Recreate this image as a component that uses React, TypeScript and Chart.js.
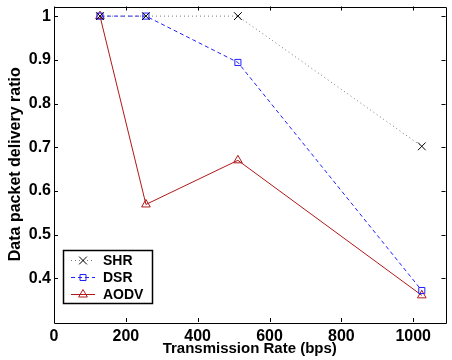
import React, { useEffect, useRef } from "react";
import { Chart, registerables } from "chart.js";

Chart.register(...registerables);

const xValues = [128, 256, 512, 1024];
const shrValues = [1, 1, 1, 0.702];
const dsrValues = [1, 1, 0.894, 0.372];
const aodvValues = [1, 0.569, 0.67, 0.361];
const xTickValues = [0, 200, 400, 600, 800, 1000];
const yTickValues = [0.4, 0.5, 0.6, 0.7, 0.8, 0.9, 1];
const seriesNames = ["SHR", "DSR", "AODV"];

const FONT = "'Liberation Sans', Arial, Helvetica, sans-serif";
const RED = "#b01818";
const BLUE = "#2020ff";

function drawMarker(ctx: CanvasRenderingContext2D, kind: string, x: number, y: number, color: string) {
  ctx.save();
  ctx.strokeStyle = color;
  ctx.lineWidth = 1;
  ctx.setLineDash([]);
  ctx.beginPath();
  if (kind === "cross") {
    const d = 3.9;
    ctx.moveTo(x - d, y - d);
    ctx.lineTo(x + d, y + d);
    ctx.moveTo(x + d, y - d);
    ctx.lineTo(x - d, y + d);
  } else if (kind === "rect") {
    ctx.rect(x - 3, y - 3, 6, 6);
  } else {
    const r = 5;
    ctx.moveTo(x, y - r);
    ctx.lineTo(x + r * 0.866, y + r * 0.5);
    ctx.lineTo(x - r * 0.866, y + r * 0.5);
    ctx.closePath();
  }
  ctx.stroke();
  ctx.restore();
}

const framePlugin = {
  id: "matlabFrame",
  afterDraw(chart: any) {
    const { ctx, chartArea } = chart;
    const { left, right, top, bottom } = chartArea;
    const xs = chart.scales.x;
    const ys = chart.scales.y;
    ctx.save();
    ctx.strokeStyle = "#000";
    ctx.lineWidth = 1;
    ctx.setLineDash([]);
    ctx.beginPath();
    ctx.rect(Math.round(left) + 0.5, Math.round(top) + 0.5, Math.round(right - left), Math.round(bottom - top));
    const tl = 4;
    xTickValues.forEach((v) => {
      const px = Math.round(xs.getPixelForValue(v)) + 0.5;
      ctx.moveTo(px, bottom);
      ctx.lineTo(px, bottom - tl);
      ctx.moveTo(px, top);
      ctx.lineTo(px, top + tl);
    });
    yTickValues.forEach((v) => {
      const py = Math.round(ys.getPixelForValue(v)) + 0.5;
      ctx.moveTo(left, py);
      ctx.lineTo(left + tl, py);
      ctx.moveTo(right, py);
      ctx.lineTo(right - tl, py);
    });
    ctx.stroke();

    // legend
    const bx = 63.5, by = 250.5, bw = 89, bh = 53;
    ctx.fillStyle = "#fff";
    ctx.fillRect(bx, by, bw, bh);
    ctx.lineWidth = 1.5;
    ctx.strokeRect(bx, by, bw, bh);
    const rows = [260, 277, 294];
    const styles = [
      { color: "#777", dash: [1, 3], marker: "cross", mcolor: "#000" },
      { color: BLUE, dash: [4, 3], marker: "rect", mcolor: BLUE },
      { color: RED, dash: [], marker: "tri", mcolor: RED },
    ];
    ctx.font = `bold 14px ${FONT}`;
    ctx.textBaseline = "middle";
    ctx.textAlign = "left";
    rows.forEach((ry, i) => {
      const s = styles[i];
      ctx.lineWidth = 1;
      ctx.strokeStyle = s.color;
      ctx.setLineDash(s.dash);
      ctx.beginPath();
      ctx.moveTo(71, ry + 0.5);
      ctx.lineTo(95, ry + 0.5);
      ctx.stroke();
      drawMarker(ctx, s.marker, 83, ry + 0.5, s.mcolor);
      ctx.fillStyle = "#000";
      ctx.fillText(seriesNames[i], 103, ry + 1);
    });
    ctx.restore();
  },
};

export default function App() {
  const ref = useRef<HTMLCanvasElement>(null);
  useEffect(() => {
    document.body.style.margin = "0";
    const toPts = (ys: number[]) => xValues.map((x, i) => ({ x, y: ys[i] }));
    const chart = new Chart(ref.current as HTMLCanvasElement, {
      type: "line",
      data: {
        datasets: [
          {
            label: seriesNames[0],
            data: toPts(shrValues),
            borderColor: "#777",
            borderWidth: 1,
            borderDash: [1, 3],
            pointStyle: "crossRot",
            pointRadius: 5.5,
            pointBorderColor: "#000",
            pointBackgroundColor: "#000",
            pointBorderWidth: 1,
            fill: false,
          },
          {
            label: seriesNames[1],
            data: toPts(dsrValues),
            borderColor: BLUE,
            borderWidth: 1,
            borderDash: [4, 3],
            pointStyle: "rect",
            pointRadius: 4.3,
            pointBorderColor: BLUE,
            pointBackgroundColor: "rgba(0,0,0,0)",
            pointBorderWidth: 1,
            fill: false,
          },
          {
            label: seriesNames[2],
            data: toPts(aodvValues),
            borderColor: RED,
            borderWidth: 1,
            pointStyle: "triangle",
            pointRadius: 5,
            pointBorderColor: RED,
            pointBackgroundColor: "rgba(0,0,0,0)",
            pointBorderWidth: 1,
            fill: false,
          },
        ],
      },
      options: {
        animation: false,
        responsive: false,
        devicePixelRatio: 1,
        layout: { padding: { top: 6, right: 1, left: 0, bottom: 0 } },
        plugins: { legend: { display: false }, tooltip: { enabled: false } },
        scales: {
          x: {
            type: "linear",
            min: 0,
            max: 1090,
            grid: { display: false, drawTicks: false },
            border: { display: false },
            afterBuildTicks: (s: any) => {
              s.ticks = xTickValues.map((v) => ({ value: v }));
            },
            afterFit: (s: any) => {
              s.height = 38;
              s.paddingLeft = 0;
              s.paddingRight = 0;
            },
            ticks: {
              color: "#000",
              padding: 5,
              maxRotation: 0,
              autoSkip: false,
              callback: (v: any) => String(v),
              font: { family: FONT, size: 16, weight: "bold" },
            },
            title: {
              display: true,
              text: "Transmission Rate (bps)",
              color: "#000",
              padding: { top: 0, bottom: 2 },
              font: { family: FONT, size: 15, weight: "bold" },
            },
          },
          y: {
            type: "linear",
            min: 0.3,
            max: 1.022,
            grid: { display: false, drawTicks: false },
            border: { display: false },
            afterBuildTicks: (s: any) => {
              s.ticks = yTickValues.map((v) => ({ value: v }));
            },
            afterFit: (s: any) => {
              s.width = 54;
              s.paddingTop = 0;
              s.paddingBottom = 0;
            },
            ticks: {
              color: "#000",
              padding: 3,
              autoSkip: false,
              callback: (v: any) => (Number(v) === 1 ? "1" : Number(v).toFixed(1)),
              font: { family: FONT, size: 16, weight: "bold" },
            },
            title: {
              display: true,
              text: "Data packet delivery ratio",
              color: "#000",
              padding: { top: 6, bottom: 0 },
              font: { family: FONT, size: 16, weight: "bold" },
            },
          },
        },
      },
      plugins: [framePlugin],
    } as any);
    return () => chart.destroy();
  }, []);
  return (
    <div style={{ width: 452, height: 360, background: "#fff" }}>
      <canvas ref={ref} width={452} height={360} />
    </div>
  );
}
